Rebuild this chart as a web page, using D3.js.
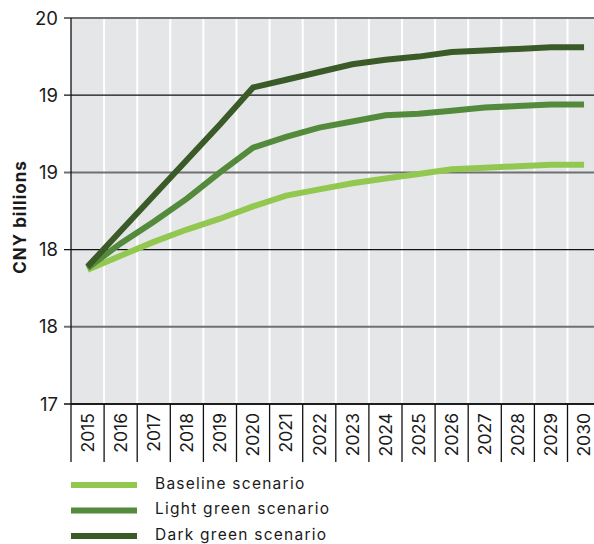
<!DOCTYPE html>
<html>
<head>
<meta charset="utf-8">
<script src="https://cdn.jsdelivr.net/npm/d3@7"></script>
<style>
  body { margin: 0; background: #fff; }
  svg { display: block; font-family: Inter, Lato, "Noto Sans", sans-serif; }
</style>
</head>
<body>
<script>
// data
var years = [2015, 2016, 2017, 2018, 2019, 2020, 2021, 2022, 2023, 2024, 2025, 2026, 2027, 2028, 2029, 2030];
var baseline = [17.87, 17.96, 18.05, 18.13, 18.20, 18.28, 18.35, 18.39, 18.43, 18.46, 18.49, 18.52, 18.53, 18.54, 18.55, 18.55];
var lightGreen = [17.88, 18.04, 18.18, 18.33, 18.50, 18.66, 18.73, 18.79, 18.83, 18.87, 18.88, 18.90, 18.92, 18.93, 18.94, 18.94];
var darkGreen = [17.89, 18.12, 18.35, 18.58, 18.81, 19.05, 19.10, 19.15, 19.20, 19.23, 19.25, 19.28, 19.29, 19.30, 19.31, 19.31];
var yTicks = [17, 17.5, 18, 18.5, 19, 19.5];
var yTickLabels = ["17", "18", "18", "19", "19", "20"];
var seriesNames = ["Baseline scenario", "Light green scenario", "Dark green scenario"];
var seriesColors = ["#92c84f", "#548a3c", "#3a5a28"];

window.onload = function() {
    var width = 594,
        height = 544;

    var margin = {"left": 71, "top": 18, "bottom": 140};
    var plotBottom = height - margin.bottom;

    var svg = d3.select("body").append("svg")
        .attr("width", width)
        .attr("height", height);

    var x = d3.scaleBand()
        .domain(years)
        .range([margin.left, margin.left + 16 * 33.1]);

    var y = d3.scaleLinear()
        .domain([17, 19.5])
        .range([plotBottom, margin.top]);

    // plot background
    svg.append("rect")
        .attr("x", margin.left)
        .attr("y", margin.top)
        .attr("width", x.range()[1] - margin.left)
        .attr("height", plotBottom - margin.top)
        .attr("fill", "#e5e6e8");

    // white vertical separators between years
    svg.selectAll(".vgrid")
        .data(years.slice(1))
        .enter().append("line")
        .attr("x1", function(d) { return x(d); })
        .attr("x2", function(d) { return x(d); })
        .attr("y1", margin.top)
        .attr("y2", plotBottom)
        .attr("stroke", "#fff")
        .attr("stroke-width", 2);

    // horizontal gridlines, half steps grey
    svg.selectAll(".hgrid")
        .data(yTicks)
        .enter().append("line")
        .attr("x1", margin.left - 7)
        .attr("x2", width)
        .attr("y1", function(d) { return y(d); })
        .attr("y2", function(d) { return y(d); })
        .attr("stroke", function(d) { return d % 1 === 0 ? "#111" : "#707070"; })
        .attr("stroke-width", function(d) { return d % 1 === 0 ? 1.3 : 2; });

    // y axis line
    svg.append("line")
        .attr("x1", margin.left)
        .attr("x2", margin.left)
        .attr("y1", margin.top)
        .attr("y2", plotBottom)
        .attr("stroke", "#111")
        .attr("stroke-width", 1.3);

    svg.selectAll(".ylab")
        .data(yTicks)
        .enter().append("text")
        .attr("x", 58)
        .attr("y", function(d) { return y(d); })
        .attr("dy", "0.36em")
        .attr("text-anchor", "end")
        .attr("font-size", 18.5)
        .attr("fill", "#1a1a1a")
        .text(function(d, i) { return yTickLabels[i]; });

    svg.append("text")
        .attr("transform", "translate(26,217) rotate(-90)")
        .attr("text-anchor", "middle")
        .attr("font-size", 17)
        .attr("font-weight", "bold")
        .attr("letter-spacing", 1)
        .attr("fill", "#1a1a1a")
        .text("CNY billions");

    // x axis: ticks at band edges, rotated year labels
    svg.selectAll(".xtick")
        .data(years.concat([null]))
        .enter().append("line")
        .attr("x1", function(d, i) { return margin.left + i * x.step(); })
        .attr("x2", function(d, i) { return margin.left + i * x.step(); })
        .attr("y1", plotBottom)
        .attr("y2", plotBottom + 58)
        .attr("stroke", "#111")
        .attr("stroke-width", 1.3);

    svg.append("line")
        .attr("x1", margin.left)
        .attr("x2", width)
        .attr("y1", plotBottom)
        .attr("y2", plotBottom)
        .attr("stroke", "#111")
        .attr("stroke-width", 1.3);

    svg.selectAll(".xlab")
        .data(years)
        .enter().append("text")
        .attr("transform", function(d) {
            return "translate(" + (x(d) + x.bandwidth() / 2) + "," + (plotBottom + 9) + ") rotate(-90)";
        })
        .attr("dy", "0.36em")
        .attr("text-anchor", "end")
        .attr("font-size", 17.5)
        .attr("fill", "#1a1a1a")
        .text(function(d) { return d; });

    // lines
    var line = d3.line()
        .x(function(d, i) { return x(years[i]) + x.bandwidth() / 2; })
        .y(function(d) { return y(d); });

    var series = [baseline, lightGreen, darkGreen];

    svg.selectAll(".series")
        .data(series)
        .enter().append("path")
        .attr("d", line)
        .attr("fill", "none")
        .attr("stroke", function(d, i) { return seriesColors[i]; })
        .attr("stroke-width", 6);

    // legend
    var legend = svg.selectAll(".legend")
        .data(seriesNames)
        .enter().append("g")
        .attr("transform", function(d, i) {
            return "translate(71," + (485 + i * 25.5) + ")";
        });

    legend.append("line")
        .attr("x1", 0)
        .attr("x2", 66)
        .attr("stroke", function(d, i) { return seriesColors[i]; })
        .attr("stroke-width", 6);

    legend.append("text")
        .attr("x", 84)
        .attr("y", 3.6)
        .attr("font-size", 15.5)
        .attr("letter-spacing", 1.25)
        .attr("fill", "#1a1a1a")
        .text(function(d) { return d; });
};
</script>
</body>
</html>
